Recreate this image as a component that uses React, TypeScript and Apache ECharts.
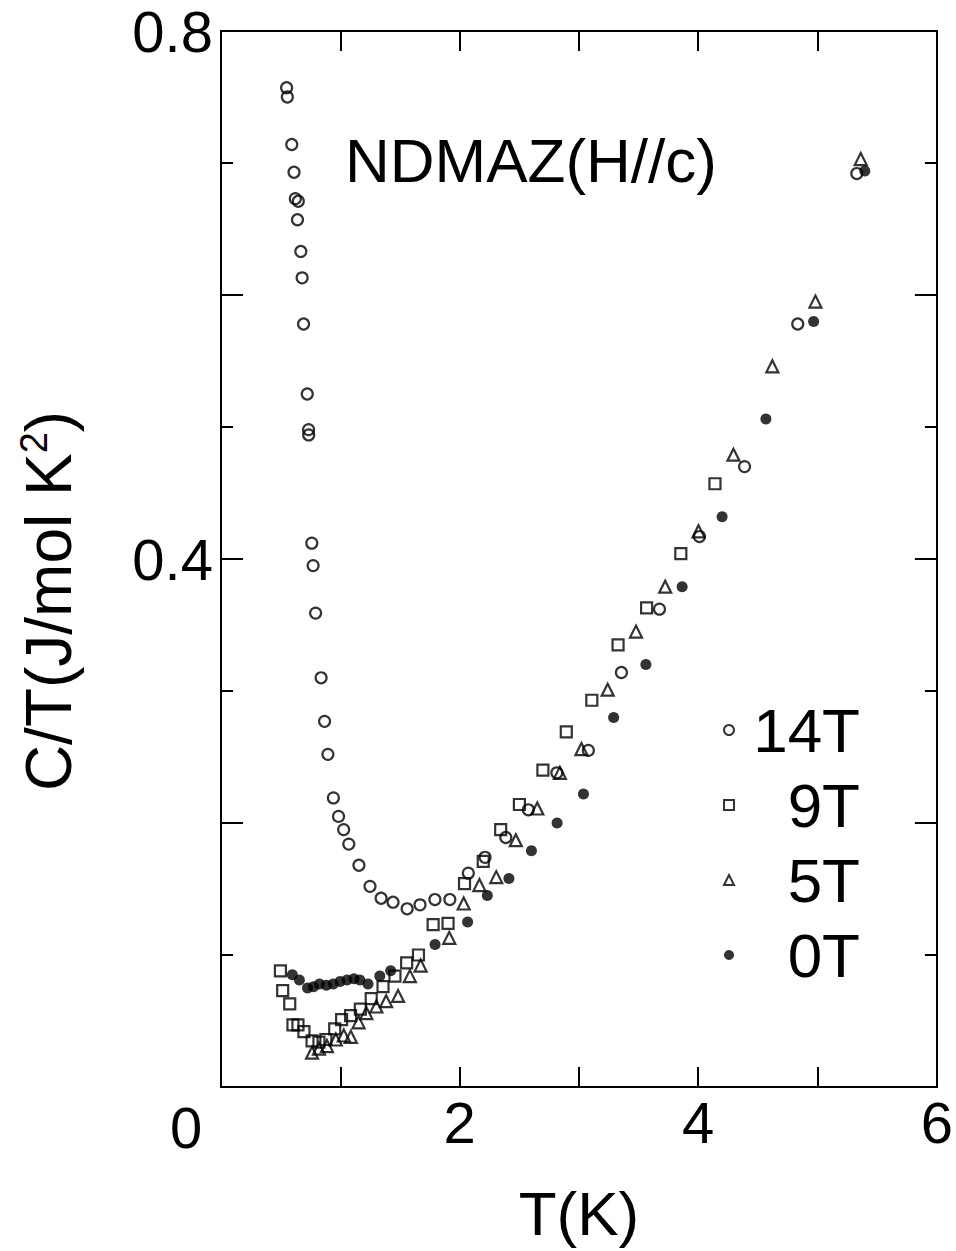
import React, { useEffect, useRef } from "react";
import * as echarts from "echarts";

const FONT = '"Liberation Sans", Arial, Helvetica, sans-serif';

const seriesNames = ["14T", "9T", "5T", "0T"];

const data14T: number[][] = [
  [0.55, 0.757], [0.556, 0.75], [0.593, 0.714], [0.612, 0.693], [0.623, 0.673], [0.648, 0.671],
  [0.641, 0.657], [0.669, 0.633], [0.68, 0.613], [0.692, 0.578], [0.723, 0.525], [0.734, 0.498],
  [0.735, 0.494], [0.761, 0.412], [0.772, 0.395], [0.793, 0.359], [0.839, 0.31], [0.868, 0.277],
  [0.896, 0.252], [0.942, 0.219], [0.985, 0.205], [1.028, 0.195], [1.071, 0.184], [1.156, 0.168],
  [1.249, 0.152], [1.342, 0.143], [1.442, 0.14], [1.56, 0.135], [1.668, 0.138], [1.793, 0.142],
  [1.918, 0.142], [2.073, 0.162], [2.213, 0.174], [2.387, 0.189], [2.576, 0.21], [2.815, 0.238],
  [3.079, 0.255], [3.356, 0.314], [3.675, 0.362], [4.01, 0.417], [4.388, 0.47], [4.834, 0.578],
  [5.329, 0.692],
];

const data9T: number[][] = [
  [0.498, 0.088], [0.517, 0.073], [0.576, 0.063], [0.603, 0.047], [0.645, 0.047], [0.695, 0.042],
  [0.763, 0.035], [0.821, 0.034], [0.879, 0.036], [0.953, 0.044], [1.011, 0.051], [1.086, 0.054],
  [1.168, 0.059], [1.259, 0.067], [1.358, 0.076], [1.458, 0.084], [1.556, 0.094], [1.655, 0.1],
  [1.778, 0.123], [1.903, 0.124], [2.041, 0.154], [2.198, 0.171], [2.344, 0.195], [2.501, 0.214],
  [2.698, 0.24], [2.894, 0.269], [3.108, 0.293], [3.328, 0.335], [3.567, 0.363], [3.854, 0.404],
  [4.14, 0.457],
];

const data5T: number[][] = [
  [0.763, 0.026], [0.821, 0.029], [0.888, 0.031], [0.962, 0.036], [1.029, 0.039], [1.088, 0.038],
  [1.153, 0.049], [1.218, 0.056], [1.302, 0.061], [1.384, 0.065], [1.484, 0.069], [1.583, 0.084],
  [1.673, 0.092], [1.913, 0.113], [2.034, 0.139], [2.166, 0.153], [2.307, 0.159], [2.471, 0.187],
  [2.651, 0.211], [2.84, 0.238], [3.021, 0.256], [3.241, 0.301], [3.478, 0.345], [3.723, 0.379],
  [4.002, 0.421], [4.295, 0.479], [4.621, 0.546], [4.982, 0.595], [5.362, 0.703],
];

const data0T: number[][] = [
  [0.598, 0.085], [0.657, 0.081], [0.725, 0.075], [0.775, 0.076], [0.825, 0.078], [0.883, 0.077],
  [0.94, 0.078], [0.998, 0.08], [1.056, 0.081], [1.114, 0.082], [1.164, 0.081], [1.232, 0.078],
  [1.331, 0.084], [1.422, 0.088], [1.794, 0.108], [2.067, 0.125], [2.232, 0.145], [2.413, 0.158],
  [2.602, 0.179], [2.817, 0.2], [3.038, 0.222], [3.291, 0.28], [3.561, 0.32], [3.865, 0.379],
  [4.2, 0.432], [4.567, 0.506], [4.967, 0.58], [5.396, 0.694],
];

const xLabelsShown = [2, 4, 6];
const yLabelsShown = [0.4, 0.8];

export default function App() {
  const ref = useRef<HTMLDivElement>(null);
  useEffect(() => {
    document.body.style.margin = "0";
    const chart = echarts.init(ref.current!, null, { renderer: "svg" });
    const axisLine = { show: true, onZero: false, lineStyle: { color: "#000", width: 2 } };
    const xCommon = {
      type: "value",
      min: 0,
      max: 6,
      interval: 1,
      splitLine: { show: false },
      axisLine,
      axisTick: { show: true, inside: true, length: 20, lineStyle: { color: "#000", width: 2 } },
    };
    const yCommon = {
      type: "value",
      min: 0,
      max: 0.8,
      interval: 0.2,
      splitLine: { show: false },
      axisLine,
      axisTick: { show: true, inside: true, length: 22, lineStyle: { color: "#000", width: 2 } },
      minorTick: { show: true, splitNumber: 2, length: 12, lineStyle: { color: "#000", width: 2 } },
    };
    const hollow = { color: "rgba(0,0,0,0)", borderColor: "#000", borderWidth: 2.2 };
    const option: any = {
      animation: false,
      backgroundColor: "#fff",
      grid: { left: 221, top: 31, right: 14, bottom: 164 },
      xAxis: [
        {
          ...xCommon,
          position: "bottom",
          name: "T(K)",
          nameLocation: "middle",
          nameGap: 95,
          nameTextStyle: { fontFamily: FONT, fontSize: 62, color: "#000" },
          axisLabel: {
            show: true,
            margin: 6,
            fontFamily: FONT,
            fontSize: 58,
            color: "#000",
            formatter: (v: number) => (xLabelsShown.some((s) => Math.abs(s - v) < 1e-6) ? String(v) : ""),
          },
        },
        { ...xCommon, position: "top", axisLabel: { show: false } },
      ],
      yAxis: [
        {
          ...yCommon,
          position: "left",
          name: "C/T(J/mol K{sup|2})",
          nameLocation: "middle",
          nameRotate: 90,
          nameGap: 138,
          nameTextStyle: {
            fontFamily: FONT,
            fontSize: 64,
            color: "#000",
            padding: [0, 84, 0, 0],
            rich: {
              sup: { fontFamily: FONT, fontSize: 38, color: "#000", verticalAlign: "top", padding: [0, 0, 30, 0] },
            },
          },
          axisLabel: {
            show: true,
            margin: 8,
            fontFamily: FONT,
            fontSize: 58,
            color: "#000",
            formatter: (v: number) => (yLabelsShown.some((s) => Math.abs(s - v) < 1e-6) ? v.toFixed(1) : ""),
          },
        },
        { ...yCommon, position: "right", axisLabel: { show: false } },
      ],
      legend: {
        orient: "vertical",
        left: 718,
        top: 694,
        itemWidth: 10,
        itemHeight: 10,
        itemGap: 13,
        selectedMode: false,
        data: [
          { name: "14T", icon: "circle", itemStyle: { color: "rgba(0,0,0,0)", borderColor: "#000", borderWidth: 2 } },
          { name: "9T", icon: "rect", itemStyle: { color: "rgba(0,0,0,0)", borderColor: "#000", borderWidth: 2 } },
          { name: "5T", icon: "triangle", itemStyle: { color: "rgba(0,0,0,0)", borderColor: "#000", borderWidth: 2 } },
          { name: "0T", icon: "circle", itemStyle: { color: "#000", borderWidth: 0 } },
        ],
        formatter: (n: string) => `{a|${n}}`,
        textStyle: {
          rich: {
            a: { width: 121, align: "right", fontSize: 62, lineHeight: 62, fontFamily: FONT, color: "#000" },
          },
        },
      },
      graphic: [
        {
          type: "text",
          x: 345,
          y: 160,
          style: { text: "NDMAZ(H//c)", fontFamily: FONT, fontSize: 62, fill: "#000", verticalAlign: "middle", align: "left" },
        },
        {
          type: "text",
          x: 186,
          y: 1127,
          style: { text: "0", fontFamily: FONT, fontSize: 58, fill: "#000", verticalAlign: "middle", align: "center" },
        },
      ],
      series: [
        {
          name: seriesNames[0],
          type: "scatter",
          data: data14T,
          symbol: "circle",
          symbolSize: 11,
          itemStyle: hollow,
        },
        {
          name: seriesNames[1],
          type: "scatter",
          data: data9T,
          symbol: "rect",
          symbolSize: 11,
          itemStyle: hollow,
        },
        {
          name: seriesNames[2],
          type: "scatter",
          data: data5T,
          symbol: "triangle",
          symbolSize: 12,
          itemStyle: hollow,
        },
        {
          name: seriesNames[3],
          type: "scatter",
          data: data0T,
          symbol: "circle",
          symbolSize: 11,
          itemStyle: { color: "#000" },
        },
      ],
    };
    chart.setOption(option);
    return () => chart.dispose();
  }, []);
  return <div ref={ref} style={{ width: 956, height: 1251 }} />;
}
